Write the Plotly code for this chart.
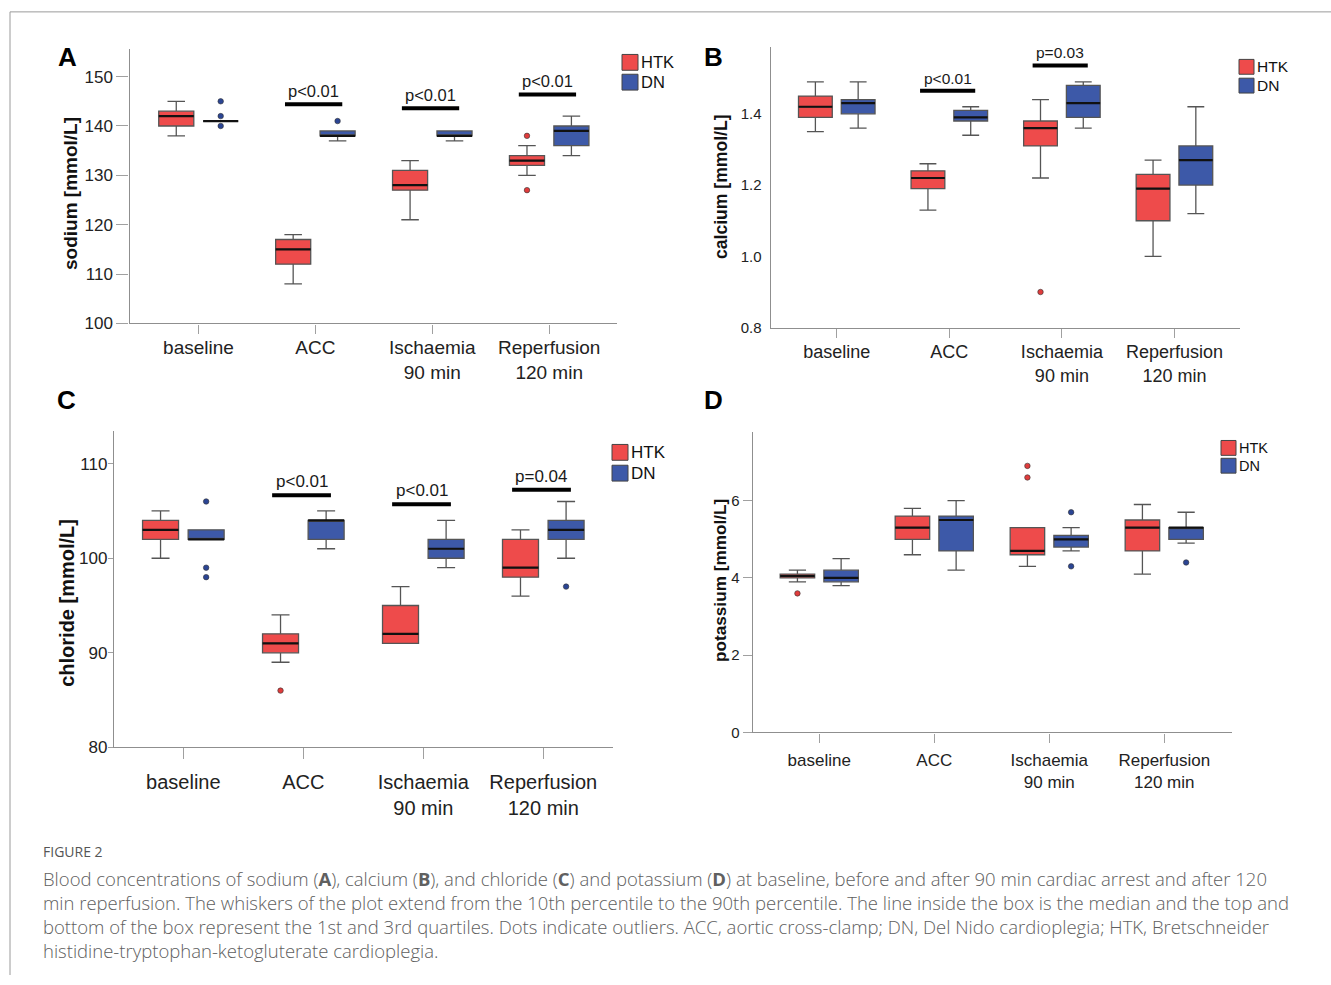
import plotly.graph_objects as go

W, H = 1331, 985

# ---------------- data ----------------
categories = ["baseline", "ACC", "Ischaemia<br>90 min", "Reperfusion<br>120 min"]
groups = ["HTK", "DN"]

# A: sodium [mmol/L]
na_htk_q1 = [140, 112, 127, 132]
na_htk_med = [142, 115, 128, 133]
na_htk_q3 = [143, 117, 131, 134]
na_htk_lo = [138, 108, 121, 130]
na_htk_hi = [145, 118, 133, 136]
na_htk_out_cat = [3, 3]
na_htk_out_val = [138, 127]
na_dn_q1 = [141, 138, 138, 136]
na_dn_med = [141, 138, 138, 139]
na_dn_q3 = [141, 139, 139, 140]
na_dn_lo = [141, 137, 137, 134]
na_dn_hi = [141, 139, 139, 142]
na_dn_out_cat = [0, 0, 0, 1]
na_dn_out_val = [145, 142, 140, 141]
na_sig_cat = [1, 2, 3]
na_sig_y = [144.4, 143.6, 146.4]
na_sig_text = ["p<0.01", "p<0.01", "p<0.01"]
na_ticks = [100, 110, 120, 130, 140, 150]

# B: calcium [mmol/L]
ca_htk_q1 = [1.39, 1.19, 1.31, 1.10]
ca_htk_med = [1.42, 1.22, 1.36, 1.19]
ca_htk_q3 = [1.45, 1.24, 1.38, 1.23]
ca_htk_lo = [1.35, 1.13, 1.22, 1.00]
ca_htk_hi = [1.49, 1.26, 1.44, 1.27]
ca_htk_out_cat = [2]
ca_htk_out_val = [0.90]
ca_dn_q1 = [1.40, 1.38, 1.39, 1.20]
ca_dn_med = [1.43, 1.39, 1.43, 1.27]
ca_dn_q3 = [1.44, 1.41, 1.48, 1.31]
ca_dn_lo = [1.36, 1.34, 1.36, 1.12]
ca_dn_hi = [1.49, 1.42, 1.49, 1.42]
ca_dn_out_cat = []
ca_dn_out_val = []
ca_sig_cat = [1, 2]
ca_sig_y = [1.465, 1.536]
ca_sig_text = ["p<0.01", "p=0.03"]
ca_ticks = [0.8, 1.0, 1.2, 1.4]

# C: chloride [mmol/L]
cl_htk_q1 = [102, 90, 91, 98]
cl_htk_med = [103, 91, 92, 99]
cl_htk_q3 = [104, 92, 95, 102]
cl_htk_lo = [100, 89, 91, 96]
cl_htk_hi = [105, 94, 97, 103]
cl_htk_out_cat = [1]
cl_htk_out_val = [86]
cl_dn_q1 = [102, 102, 100, 102]
cl_dn_med = [102, 104, 101, 103]
cl_dn_q3 = [103, 104, 102, 104]
cl_dn_lo = [102, 101, 99, 100]
cl_dn_hi = [103, 105, 104, 106]
cl_dn_out_cat = [0, 0, 0, 3]
cl_dn_out_val = [106, 99, 98, 97]
cl_sig_cat = [1, 2, 3]
cl_sig_y = [106.65, 105.7, 107.25]
cl_sig_text = ["p<0.01", "p<0.01", "p=0.04"]
cl_ticks = [80, 90, 100, 110]

# D: potassium [mmol/L]
k_htk_q1 = [4.0, 5.0, 4.6, 4.7]
k_htk_med = [4.05, 5.3, 4.7, 5.3]
k_htk_q3 = [4.1, 5.6, 5.3, 5.5]
k_htk_lo = [3.9, 4.6, 4.3, 4.1]
k_htk_hi = [4.2, 5.8, 5.3, 5.9]
k_htk_out_cat = [0, 2, 2]
k_htk_out_val = [3.6, 6.9, 6.6]
k_dn_q1 = [3.9, 4.7, 4.8, 5.0]
k_dn_med = [4.0, 5.5, 5.0, 5.3]
k_dn_q3 = [4.2, 5.6, 5.1, 5.3]
k_dn_lo = [3.8, 4.2, 4.7, 4.9]
k_dn_hi = [4.5, 6.0, 5.3, 5.7]
k_dn_out_cat = [2, 2, 3]
k_dn_out_val = [5.7, 4.3, 4.4]
k_sig_cat = []
k_sig_y = []
k_sig_text = []
k_ticks = [0, 2, 4, 6]

caption_head = "FIGURE 2"
caption_lines = [
    "Blood concentrations of sodium (<b>A</b>), calcium (<b>B</b>), and chloride (<b>C</b>) and potassium (<b>D</b>) at baseline, before and after 90 min cardiac arrest and after 120",
    "min reperfusion. The whiskers of the plot extend from the 10th percentile to the 90th percentile. The line inside the box is the median and the top and",
    "bottom of the box represent the 1st and 3rd quartiles. Dots indicate outliers. ACC, aortic cross-clamp; DN, Del Nido cardioplegia; HTK, Bretschneider",
    "histidine-tryptophan-ketogluterate cardioplegia.",
]

# ---------------- styles ----------------
FONT = "Liberation Sans, Arial, sans-serif"
RED = "#EE4B4B"
BLUE = "#3D59A8"
RED_OUT = "#E03C3C"
BLUE_OUT = "#2B4594"
BOX_LINE = "#555555"
AXIS = "#8f8f8f"
OFFSETS = [-0.19, 0.19]
BOXW = 0.30


def fx(p):
    return p / W


def fy(p):
    return 1 - p / H


panels = [
    dict(letter="A", title="sodium [mmol/L]",
         data=[(na_htk_q1, na_htk_med, na_htk_q3, na_htk_lo, na_htk_hi, na_htk_out_cat, na_htk_out_val),
               (na_dn_q1, na_dn_med, na_dn_q3, na_dn_lo, na_dn_hi, na_dn_out_cat, na_dn_out_val)],
         sig=(na_sig_cat, na_sig_y, na_sig_text), ticks=na_ticks, tickfmt="d",
         xd=(129.5, 617), yd=(50, 326.7), xr=(-0.59, 3.58), yr=(100, 155.5),
         ytf=17, xtf=19, yticklen=12, ystand=0, xticklen=9, xstand=-2, pf=16.5,
         letter_xy=(67, 58), title_xy=(70, 196), title_size=19,
         leg=(622, 55, 16, 20, 16.5)),
    dict(letter="B", title="calcium [mmol/L]",
         data=[(ca_htk_q1, ca_htk_med, ca_htk_q3, ca_htk_lo, ca_htk_hi, ca_htk_out_cat, ca_htk_out_val),
               (ca_dn_q1, ca_dn_med, ca_dn_q3, ca_dn_lo, ca_dn_hi, ca_dn_out_cat, ca_dn_out_val)],
         sig=(ca_sig_cat, ca_sig_y, ca_sig_text), ticks=ca_ticks, tickfmt=".1f",
         xd=(770.7, 1239.5), yd=(47, 331), xr=(-0.587, 3.578), yr=(0.8, 1.589),
         ytf=15, xtf=18, yticklen=0, ystand=5, xticklen=9, xstand=-1, pf=15.5,
         letter_xy=(713, 58), title_xy=(721, 189), title_size=17.6,
         leg=(1239, 60, 15, 19, 15.5)),
    dict(letter="C", title="chloride [mmol/L]",
         data=[(cl_htk_q1, cl_htk_med, cl_htk_q3, cl_htk_lo, cl_htk_hi, cl_htk_out_cat, cl_htk_out_val),
               (cl_dn_q1, cl_dn_med, cl_dn_q3, cl_dn_lo, cl_dn_hi, cl_dn_out_cat, cl_dn_out_val)],
         sig=(cl_sig_cat, cl_sig_y, cl_sig_text), ticks=cl_ticks, tickfmt="d",
         xd=(114, 613), yd=(435, 755), xr=(-0.578, 3.581), yr=(80, 113.5),
         ytf=17, xtf=20, yticklen=5, ystand=-3, xticklen=11, xstand=6, pf=17,
         letter_xy=(66, 404), title_xy=(67, 609), title_size=20,
         leg=(612, 449, 16, 21, 17)),
    dict(letter="D", title="potassium [mmol/L]",
         data=[(k_htk_q1, k_htk_med, k_htk_q3, k_htk_lo, k_htk_hi, k_htk_out_cat, k_htk_out_val),
               (k_dn_q1, k_dn_med, k_dn_q3, k_dn_lo, k_dn_hi, k_dn_out_cat, k_dn_out_val)],
         sig=(k_sig_cat, k_sig_y, k_sig_text), ticks=k_ticks, tickfmt="d",
         xd=(752.7, 1232), yd=(436.7, 740), xr=(-0.579, 3.589), yr=(0, 7.77),
         ytf=15, xtf=17, yticklen=9, ystand=0, xticklen=9, xstand=3, pf=15,
         letter_xy=(713, 404), title_xy=(720, 587), title_size=17.2,
         leg=(1221, 445, 15, 18, 14.5)),
]

fig = go.Figure()
shapes = []
annotations = []
layout_axes = {}

for pi, p in enumerate(panels):
    n = pi + 1
    xa = "x" if n == 1 else f"x{n}"
    ya = "y" if n == 1 else f"y{n}"
    fills = [RED, BLUE]
    outc = [RED_OUT, BLUE_OUT]
    for gi, (q1, med, q3, lo, hi, oc, ov) in enumerate(p["data"]):
        pos = [i + OFFSETS[gi] for i in range(len(categories))]
        fig.add_trace(go.Box(
            x=pos, q1=q1, median=med, q3=q3, lowerfence=lo, upperfence=hi,
            width=BOXW, whiskerwidth=0.5, fillcolor=fills[gi],
            line=dict(color=BOX_LINE, width=1.3), boxpoints=False,
            name=groups[gi], showlegend=False, xaxis=xa, yaxis=ya))
        mx, my = [], []
        for xpos, m in zip(pos, med):
            mx += [xpos - BOXW / 2, xpos + BOXW / 2, None]
            my += [m, m, None]
        fig.add_trace(go.Scatter(x=mx, y=my, mode="lines", line=dict(color="#111111", width=2.2),
                                 showlegend=False, hoverinfo="skip", xaxis=xa, yaxis=ya))
        if oc:
            fig.add_trace(go.Scatter(
                x=[c + OFFSETS[gi] for c in oc], y=ov, mode="markers",
                marker=dict(size=5.5, color=outc[gi], line=dict(color="#333333", width=0.6)),
                showlegend=False, name=groups[gi] + " outliers", xaxis=xa, yaxis=ya))
    # significance bars
    sc, sy, st = p["sig"]
    for c, yv, t in zip(sc, sy, st):
        shapes.append(dict(type="line", xref=xa, yref=ya, x0=c - 0.26, x1=c + 0.23,
                           y0=yv, y1=yv, line=dict(color="#000000", width=4)))
        annotations.append(dict(xref=xa, yref=ya, x=c - 0.015, y=yv, text=t, showarrow=False,
                                yanchor="bottom", yshift=2,
                                font=dict(family=FONT, size=p["pf"], color="#1a1a1a")))
    # axes
    layout_axes["xaxis" if n == 1 else f"xaxis{n}"] = dict(
        domain=[fx(p["xd"][0]), fx(p["xd"][1])], range=list(p["xr"]), anchor=ya,
        tickmode="array", tickvals=list(range(len(categories))), ticktext=categories,
        showline=True, linecolor=AXIS, linewidth=1.3, ticks="outside", ticklen=p["xticklen"],
        ticklabelstandoff=p["xstand"],
        tickcolor="#a0a0a0", tickwidth=1.3, showgrid=False, zeroline=False,
        tickfont=dict(family=FONT, size=p["xtf"], color="#222222"), fixedrange=True)
    layout_axes["yaxis" if n == 1 else f"yaxis{n}"] = dict(
        domain=[fy(p["yd"][1]), fy(p["yd"][0])], range=list(p["yr"]), anchor=xa,
        tickmode="array", tickvals=p["ticks"], tickformat=p["tickfmt"],
        showline=True, linecolor=AXIS, linewidth=1.3,
        ticks="outside" if p["yticklen"] > 0 else "", ticklen=max(p["yticklen"], 1),
        ticklabelstandoff=p["ystand"],
        tickcolor="#a0a0a0", tickwidth=1.3, showgrid=False, zeroline=False,
        tickfont=dict(family=FONT, size=p["ytf"], color="#222222"), fixedrange=True)
    # panel letter
    lx, ly = p["letter_xy"]
    annotations.append(dict(xref="paper", yref="paper", x=fx(lx), y=fy(ly), text=f"<b>{p['letter']}</b>",
                            showarrow=False, xanchor="center", yanchor="middle",
                            font=dict(family=FONT, size=26, color="#000000")))
    # y title
    tx, ty = p["title_xy"]
    annotations.append(dict(xref="paper", yref="paper", x=fx(tx), y=fy(ty), text=f"<b>{p['title']}</b>",
                            textangle=-90, showarrow=False, xanchor="center", yanchor="middle",
                            font=dict(family=FONT, size=p["title_size"], color="#111111")))
    # legend
    lgx, lgy, sq, step, lf = p["leg"]
    for gi, g in enumerate(groups):
        y0 = lgy + gi * step
        shapes.append(dict(type="rect", xref="paper", yref="paper", x0=fx(lgx), x1=fx(lgx + sq),
                           y0=fy(y0 + sq), y1=fy(y0), fillcolor=fills[gi],
                           line=dict(color="#444444", width=1)))
        annotations.append(dict(xref="paper", yref="paper", x=fx(lgx + sq + 1), y=fy(y0 + sq / 2),
                                text=g, showarrow=False, xanchor="left", yanchor="middle",
                                font=dict(family=FONT, size=lf, color="#111111")))

# page border lines
shapes.append(dict(type="line", xref="paper", yref="paper", x0=fx(10), x1=1, y0=fy(12), y1=fy(12),
                   line=dict(color="#9a9a9a", width=1)))
shapes.append(dict(type="line", xref="paper", yref="paper", x0=fx(10), x1=fx(10), y0=fy(12), y1=0,
                   line=dict(color="#9a9a9a", width=1)))

# caption
CAP_FONT = "Open Sans, Lato, sans-serif"
annotations.append(dict(xref="paper", yref="paper", x=fx(41), y=fy(872), text=caption_head,
                        showarrow=False, xanchor="left", yanchor="bottom",
                        font=dict(family=CAP_FONT, size=14, color="#555555")))
annotations.append(dict(xref="paper", yref="paper", x=fx(41), y=fy(873), text="<br>".join(caption_lines),
                        showarrow=False, xanchor="left", yanchor="top", align="left",
                        font=dict(family=CAP_FONT, size=18.5, color="#606060", weight=300)))

fig.update_layout(
    width=W, height=H, margin=dict(l=0, r=0, t=0, b=0),
    paper_bgcolor="white", plot_bgcolor="white", boxmode="overlay",
    showlegend=False, shapes=shapes, annotations=annotations, **layout_axes)

fig.write_html("out.html", config={"displayModeBar": False},
               post_script="document.body.style.margin='0';")
